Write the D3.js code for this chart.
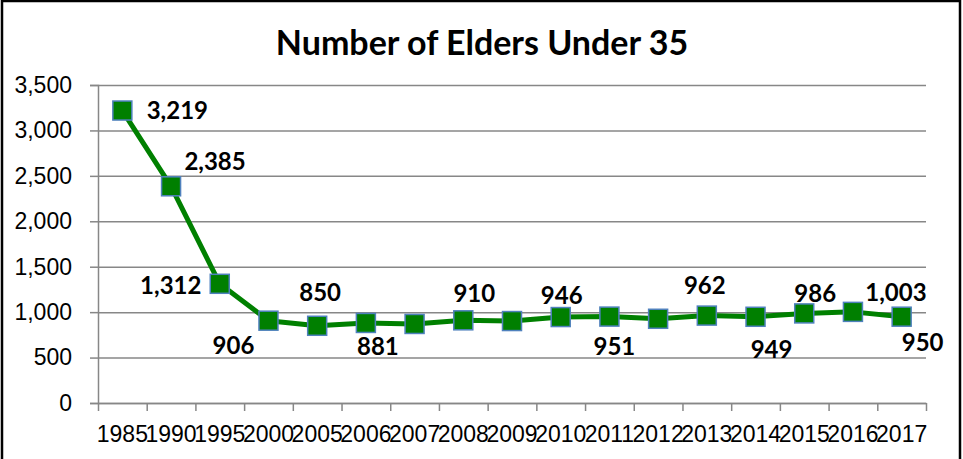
<!DOCTYPE html>
<html>
<head>
<meta charset="utf-8">
<script src="https://cdn.jsdelivr.net/npm/d3@7"></script>
<style>
  body { margin: 0; background: #fff; }
  svg { display: block; font-family: Lato, "Open Sans", sans-serif; }
</style>
</head>
<body>
<svg id="chart" width="963" height="459"></svg>
<script>
// data
var years = ["1985","1990","1995","2000","2005","2006","2007","2008","2009","2010","2011","2012","2013","2014","2015","2016","2017"];
var elders = [3219, 2385, 1312, 906, 850, 881, 870, 910, 902, 946, 951, 927, 962, 949, 986, 1003, 950];
var shownLabels = [true, true, true, true, true, true, false, true, false, true, true, false, true, true, true, true, true];
var yTicks = [0, 500, 1000, 1500, 2000, 2500, 3000, 3500];

// label placement (offset from the marker centre)
var labelDx = [55, 44, -49, -35, 3, 12, 0, 11, 0, 1, 5, 0, -2, 16, 11, 43, 21];
var labelDy = [0, -25, 2, 25, -33, 23, 0, -27, 0, -22, 30, 0, -30, 33, -20, -20, 26];

var svg = d3.select("#chart");
var pLeft = 98, pRight = 926, pTop = 85, pBottom = 403;

// chart frame
svg.append("rect")
  .attr("x", 2).attr("y", 1)
  .attr("width", 958).attr("height", 480)
  .attr("fill", "none")
  .attr("stroke", "#000")
  .attr("stroke-width", 2.5);

svg.append("text")
  .attr("x", 482).attr("y", 55)
  .attr("text-anchor", "middle")
  .style("font-weight", "bold")
  .style("font-size", "34px")
  .text("Number of Elders Under 35");

var x = d3.scaleBand().domain(years).range([pLeft, pRight]);
var xEdge = d3.scaleLinear().domain([0, years.length]).range([pLeft, pRight]);
var y = d3.scaleLinear().domain([0, 3500]).range([pBottom, pTop]);

// gridlines
var grid = svg.append("g")
  .attr("transform", "translate(" + pLeft + ",0)")
  .call(d3.axisLeft(y).tickValues(yTicks).tickSize(-(pRight - pLeft)).tickFormat(""));
grid.select(".domain").remove();
grid.selectAll("line").attr("stroke", "#878787").attr("stroke-width", 1.5);

// y axis
var yAxisG = svg.append("g")
  .attr("transform", "translate(" + pLeft + ",0)")
  .call(d3.axisLeft(y).tickValues(yTicks).tickSize(8).tickPadding(18).tickFormat(d3.format(",")));
yAxisG.select(".domain").attr("stroke", "#878787").attr("stroke-width", 1.5);
yAxisG.selectAll("line").attr("stroke", "#878787").attr("stroke-width", 1.5);
yAxisG.selectAll("text")
  .style("font-size", "23px")
  .attr("fill", "#000");

// x axis: tick marks between categories
var xTickG = svg.append("g")
  .attr("transform", "translate(0," + pBottom + ")")
  .call(d3.axisBottom(xEdge).tickValues(d3.range(0, years.length + 1)).tickSize(8).tickFormat("").tickSizeOuter(0));
xTickG.select(".domain").attr("stroke", "#878787").attr("stroke-width", 1.5);
xTickG.selectAll("line").attr("stroke", "#878787").attr("stroke-width", 1.5);

var xLabG = svg.append("g")
  .attr("transform", "translate(0," + pBottom + ")")
  .call(d3.axisBottom(x).tickSize(0).tickPadding(23));
xLabG.select(".domain").remove();
xLabG.selectAll("text")
  .style("font-size", "23px")
  .attr("fill", "#000");

// line
var cx = function(i) { return x(years[i]) + x.bandwidth() / 2; };
var line = d3.line()
  .x(function(d, i) { return cx(i); })
  .y(function(d) { return y(d); });

svg.append("path")
  .datum(elders)
  .attr("d", line)
  .attr("fill", "none")
  .attr("stroke", "#008000")
  .attr("stroke-width", 5)
  .attr("stroke-linejoin", "round");

// markers
svg.selectAll(".marker")
  .data(elders)
  .enter().append("rect")
  .attr("class", "marker")
  .attr("x", function(d, i) { return cx(i) - 9.5; })
  .attr("y", function(d) { return y(d) - 9.5; })
  .attr("width", 19)
  .attr("height", 19)
  .attr("fill", "#007f00")
  .attr("stroke", "#4f81bd")
  .attr("stroke-width", 1.5);

// data labels (only the points that carry one in the original)
var labelData = elders
  .map(function(v, i) { return { v: v, i: i }; })
  .filter(function(d) { return shownLabels[d.i]; });

svg.selectAll(".dlabel")
  .data(labelData)
  .enter().append("text")
  .attr("class", "dlabel")
  .attr("x", function(d) { return cx(d.i) + labelDx[d.i]; })
  .attr("y", function(d) { return y(d.v) + labelDy[d.i]; })
  .attr("dy", "0.36em")
  .attr("text-anchor", "middle")
  .style("font-weight", "bold")
  .style("font-size", "24px")
  .text(function(d) { return d3.format(",")(d.v); });
</script>
</body>
</html>
